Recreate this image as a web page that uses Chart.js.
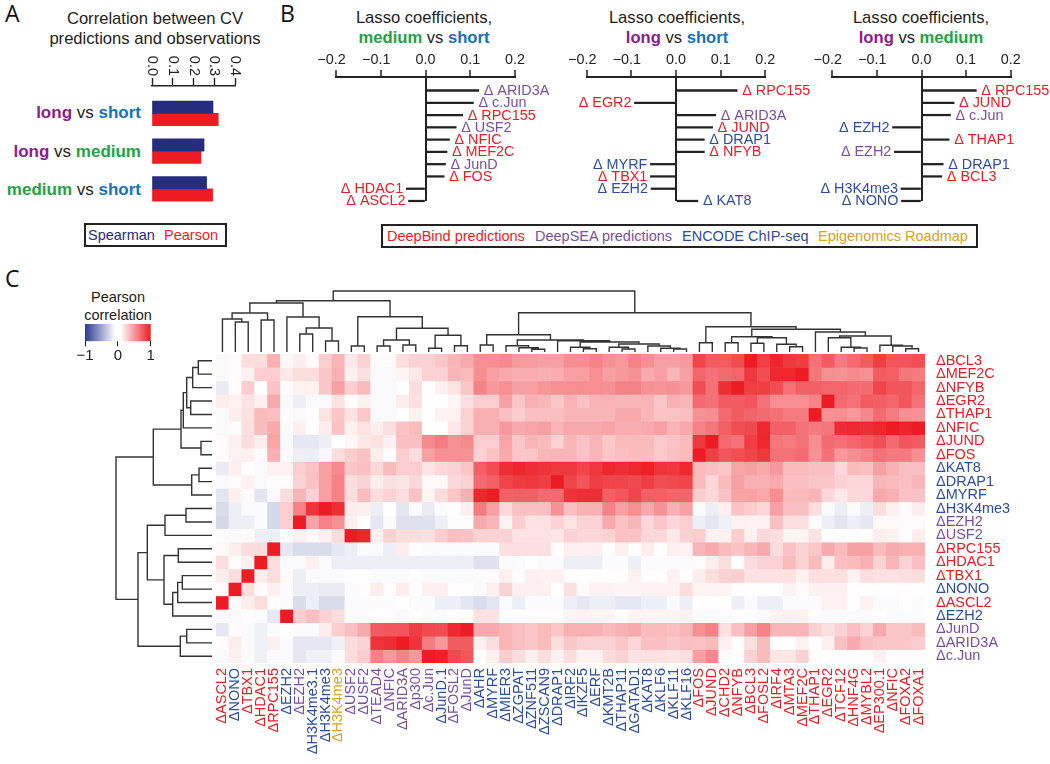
<!DOCTYPE html>
<html>
<head>
<meta charset="utf-8">
<script src="https://cdn.jsdelivr.net/npm/chart.js@4"></script>
<style>
  html, body { margin: 0; background: #fff; }
  body { width: 1050px; height: 764px; position: relative; overflow: hidden; font-family: "Liberation Sans", Arial, sans-serif; color: #222; }
  canvas { position: absolute; left: 0; top: 0; }
  .t { position: absolute; white-space: nowrap; }
  .title { font-size: 16.6px; line-height: 20px; text-align: center; transform: translateX(-50%); }
  .panel { font-family: "Open Sans", sans-serif; font-size: 23px; line-height: 26px; color: #111; }
  .cat { font-size: 17px; line-height: 20px; text-align: right; font-weight: bold; }
  .cat i { font-style: normal; font-weight: normal; color: #222; }
  .box { position: absolute; border: 2px solid #222; box-sizing: border-box; }
  .leg { font-size: 14.5px; line-height: 18px; }
  .long { color: #8e1a8e; } .short { color: #1573b8; } .medium { color: #22a243; }
  b { font-weight: bold; }
</style>
</head>
<body>
<div class="t panel" style="left:5px;top:0px">A</div>
<div class="t panel" style="left:280px;top:0px">B</div>
<div class="t panel" style="left:5px;top:265px">C</div>

<div class="t title" style="left:155px;top:9px">Correlation between CV<br>predictions and observations</div>
<div class="t cat" style="right:909px;top:103px"><span class="long">long</span> <i>vs</i> <span class="short">short</span></div>
<div class="t cat" style="right:909px;top:142px"><span class="long">long</span> <i>vs</i> <span class="medium">medium</span></div>
<div class="t cat" style="right:909px;top:180px"><span class="medium">medium</span> <i>vs</i> <span class="short">short</span></div>
<div class="box" style="left:84px;top:223px;width:143px;height:24px"></div>
<div class="t leg" style="left:88px;top:226px;color:#262c7e">Spearman</div>
<div class="t leg" style="left:164px;top:226px;color:#ed1c24">Pearson</div>

<div class="t title" style="left:424px;top:8px">Lasso coefficients,<br><b class="medium">medium</b> vs <b class="short">short</b></div>
<div class="t title" style="left:677px;top:8px">Lasso coefficients,<br><b class="long">long</b> vs <b class="short">short</b></div>
<div class="t title" style="left:921px;top:8px">Lasso coefficients,<br><b class="long">long</b> vs <b class="medium">medium</b></div>
<div class="box" style="left:381px;top:224px;width:597px;height:24px"></div>
<div class="t leg" style="left:387px;top:227px;color:#ed1c24">DeepBind predictions</div>
<div class="t leg" style="left:535px;top:227px;color:#7a4ea0">DeepSEA predictions</div>
<div class="t leg" style="left:682px;top:227px;color:#2e4c9f">ENCODE ChIP-seq</div>
<div class="t leg" style="left:818px;top:227px;color:#dfa021">Epigenomics Roadmap</div>

<div class="t leg" style="left:118px;top:288px;transform:translateX(-50%);text-align:center;line-height:18px">Pearson<br>correlation</div>

<canvas id="barsA" width="1050" height="764"></canvas>
<canvas id="lassoMS" width="1050" height="764"></canvas>
<canvas id="lassoLS" width="1050" height="764"></canvas>
<canvas id="lassoLM" width="1050" height="764"></canvas>
<canvas id="scaleBar" width="1050" height="764"></canvas>
<canvas id="dendroTop" width="1050" height="764"></canvas>
<canvas id="dendroLeft" width="1050" height="764"></canvas>
<canvas id="heat" width="1050" height="764"></canvas>

<script>
const RED = "#ed1c24", BLUE = "#2e4c9f", PURPLE = "#7a4ea0", ORANGE = "#dfa021", INK = "#222";

// panel A
const aCategories = ["long vs short", "long vs medium", "medium vs short"];
const aSpearman = [0.293, 0.25, 0.262];
const aPearson = [0.318, 0.235, 0.291];
const aTicks = ["0.0", "0.1", "0.2", "0.3", "0.4"];

// panel B
const msNames = ["Δ ARID3A", "Δ c.Jun", "Δ RPC155", "Δ USF2", "Δ NFIC", "Δ MEF2C", "Δ JunD", "Δ FOS", "Δ HDAC1", "Δ ASCL2"];
const msValues = [0.119, 0.107, 0.083, 0.0685, 0.0536, 0.048, 0.0447, 0.0417, -0.043, -0.038];
const msColors = [PURPLE, PURPLE, RED, PURPLE, RED, RED, PURPLE, RED, RED, RED];

const lsNames = ["Δ RPC155", "Δ EGR2", "Δ ARID3A", "Δ JUND", "Δ DRAP1", "Δ NFYB", "Δ MYRF", "Δ TBX1", "Δ EZH2", "Δ KAT8"];
const lsValues = [0.137, -0.093, 0.089, 0.082, 0.0635, 0.0635, -0.0575, -0.0575, -0.056, 0.049];
const lsColors = [RED, RED, PURPLE, RED, BLUE, RED, BLUE, RED, BLUE, BLUE];

const lmNames = ["Δ RPC155", "Δ JUND", "Δ c.Jun", "Δ EZH2", "Δ THAP1", "Δ EZH2", "Δ DRAP1", "Δ BCL3", "Δ H3K4me3", "Δ NONO"];
const lmValues = [0.123, 0.073, 0.065, -0.065, 0.062, -0.061, 0.0486, 0.0456, -0.046, -0.045];
const lmColors = [RED, RED, PURPLE, BLUE, RED, PURPLE, BLUE, RED, BLUE, BLUE];

// panel C
const rowLabels = ["ΔBCL3", "ΔMEF2C", "ΔNFYB", "ΔEGR2", "ΔTHAP1", "ΔNFIC", "ΔJUND", "ΔFOS", "ΔKAT8", "ΔDRAP1", "ΔMYRF", "ΔH3K4me3", "ΔEZH2", "ΔUSF2", "ΔRPC155", "ΔHDAC1", "ΔTBX1", "ΔNONO", "ΔASCL2", "ΔEZH2", "ΔJunD", "ΔARID3A", "Δc.Jun"];
const rowColors = [RED, RED, RED, RED, RED, RED, RED, RED, BLUE, BLUE, BLUE, BLUE, PURPLE, PURPLE, RED, RED, RED, BLUE, RED, BLUE, PURPLE, PURPLE, PURPLE];
const colLabels = ["ΔASCL2", "ΔNONO", "ΔTBX1", "ΔHDAC1", "ΔRPC155", "ΔEZH2", "ΔEZH2", "ΔH3K4me3.1", "ΔH3K4me3", "ΔH3K4me3", "ΔUSF2", "ΔUSF2", "ΔTEAD4", "ΔNFIC", "ΔARID3A", "Δp300", "Δc.Jun", "ΔJunD.1", "ΔFOSL2", "ΔJunD", "ΔAHR", "ΔMYRF", "ΔMIER3", "ΔZGPAT", "ΔZNF511", "ΔZSCAN9", "ΔDRAP1", "ΔIRF2", "ΔIKZF5", "ΔERF", "ΔKMT2B", "ΔTHAP11", "ΔGATAD1", "ΔKAT8", "ΔKLF6", "ΔKLF11", "ΔKLF16", "ΔFOS", "ΔJUND", "ΔCHD2", "ΔNFYB", "ΔBCL3", "ΔFOSL2", "ΔIRF4", "ΔMTA3", "ΔMEF2C", "ΔTHAP1", "ΔEGR2", "ΔTCF12", "ΔHNF4G", "ΔMYBL2", "ΔEP300.1", "ΔNFIC", "ΔFOXA2", "ΔFOXA1"];
const colColors = [RED, BLUE, RED, RED, RED, BLUE, PURPLE, BLUE, BLUE, ORANGE, PURPLE, PURPLE, PURPLE, PURPLE, PURPLE, PURPLE, PURPLE, BLUE, PURPLE, PURPLE,
  BLUE, BLUE, BLUE, BLUE, BLUE, BLUE, BLUE, BLUE, BLUE, BLUE, BLUE, BLUE, BLUE, BLUE, BLUE, BLUE, BLUE,
  RED, RED, RED, RED, RED, RED, RED, RED, RED, RED, RED, RED, RED, RED, RED, RED, RED, RED];

const rowBCL3 = [-.03,.02,.15,.15,.35,.03,.08,.02,.22,.33,.1,.2,.02,.02, .15,.2,.2,.25,.32,.38,.5,.5,.52,.44,.44,.42,.42,.5,.5,.55,.48,.45,.55,.5,.42,.42, .45,.82,.72,.72,.78,1,.85,.95,.88,.85,.62,.72,.58,.65,.72,.85,.75,.75,.78];
const rowMEF2C = [-.03,.02,.07,.22,.22,.1,.15,.15,.25,.35,.07,.14,-.03,-.03, .05,.1,.2,.2,.32,.3,.5,.42,.38,.36,.36,.35,.36,.42,.42,.5,.42,.45,.48,.38,.42,.32, .42,.68,.62,.65,.68,.88,.78,.95,.95,1,.6,.5,.48,.52,.5,.72,.7,.6,.58];
const rowNFYB = [-.1,.02,.22,.01,.27,.02,.06,.06,.25,.42,.22,.3,-.03,-.03, 0,.15,0,.07,.12,.25,.55,.45,.5,.42,.42,.46,.5,.5,.5,.5,.48,.55,.55,.48,.47,.48, .45,.78,.62,.92,1,.85,.85,.78,.62,.7,.7,.68,.68,.65,.65,.82,.75,.75,.68];
const rowEGR2 = [.08,.06,.13,.07,.38,-.03,-.08,-.03,-.03,.13,.01,.06,-.03,-.03, .08,.14,0,0,.04,.14,.22,.22,.42,.25,.35,.32,.25,.34,.27,.34,.34,.32,.32,.34,.25,.35, .32,.65,.62,.72,.72,.75,.62,.5,.5,.5,.55,1,.65,.62,.72,.7,.68,.75,.62];
const rowTHAP1 = [-.03,.08,.13,.3,.28,.02,-.03,.01,.13,.25,.13,.25,-.03,-.03, 0,.06,0,.06,.06,.2,.35,.35,.28,.22,.28,.28,.28,.32,.32,.32,.32,.38,.38,.32,.26,.26, .28,.48,.5,.65,.72,.68,.65,.62,.58,.58,1,.48,.5,.45,.52,.65,.58,.5,.48];
const rowNFIC = [-.03,.02,.14,.3,.38,-.02,.07,.01,.08,.27,.07,.13,.08,.14, .27,.3,0,0,.1,.2,.35,.35,.45,.38,.4,.42,.33,.38,.38,.38,.4,.36,.36,.38,.42,.33, .38,.55,.6,.7,.78,.8,.95,.7,.7,.62,.58,.6,.92,.95,.92,.95,1,.97,1];
const rowJUND = [.02,.07,.15,.08,.4,-.03,-.12,-.12,-.08,.01,.04,.1,.13,.07, .28,.28,.52,.58,.48,.52,.22,.22,.4,.25,.33,.3,.2,.32,.27,.33,.24,.3,.3,.3,.24,.26, .3,.88,1,.65,.62,.85,.95,.6,.58,.62,.5,.65,.62,.68,.72,.78,.65,.75,.72];
const rowFOS = [.02,.06,.07,.02,.35,-.03,-.08,-.08,-.03,.15,.22,.27,.08,.01, .22,.15,.42,.48,.48,.48,.2,.26,.38,.25,.25,.32,.32,.32,.27,.32,.25,.28,.3,.3,.24,.28, .3,1,.85,.75,.78,.82,.88,.62,.62,.65,.48,.62,.45,.5,.55,.62,.58,.58,.5];
const rowKAT8 = [-.1,.07,.01,-.03,.06,.06,.22,.27,.42,.52,.25,.28,.17,.3, .22,.22,.12,.17,.2,.25,.7,.78,.92,.95,.92,.9,.88,.88,.82,.88,.95,.92,.95,.98,.9,.88, .95,.3,.28,.25,.4,.42,.38,.45,.3,.3,.28,.28,.18,.3,.28,.42,.35,.28,.28];
const rowDRAP1 = [-.03,.02,.07,-.03,.02,.02,.2,.27,.42,.55,.15,.2,.08,.14, .12,.18,.03,.03,.17,.2,.65,.7,.82,.87,.88,.85,1,.82,.75,.85,.82,.82,.8,.85,.78,.8, .82,.3,.18,.3,.42,.35,.35,.38,.28,.28,.25,.25,.2,.18,.18,.32,.3,.28,.33];
const rowMYRF = [-.13,.07,.02,-.13,-.03,.15,.33,.2,.42,.55,.15,.3,.15,.2, .15,.27,.05,.15,.25,.35,.95,1,.7,.7,.7,.65,.65,.9,.92,.92,.7,.75,.82,.7,.7,.68, .68,.22,.17,.27,.4,.4,.38,.5,.3,.3,.33,.18,.1,.17,.17,.38,.35,.27,.27];
const rowH3K4me3 = [-.18,-.08,-.02,-.02,-.2,.22,.55,.9,1,.92,.08,.07,-.08,0, -.13,-.02,-.1,-.02,.01,.07,.58,.42,.17,.28,.28,.28,.48,.28,.35,.35,.55,.42,.5,.38,.48,.35, .42,-.02,-.08,.07,.27,.22,.18,.42,.28,.28,.15,-.02,-.08,-.02,-.08,.15,.07,.02,.08];
const rowEZH2p = [-.2,-.08,-.08,-.02,-.2,.22,1,.4,.55,.5,.07,.01,-.12,-.02, -.15,-.15,-.15,-.08,-.01,-.01,.38,.32,.06,.22,.13,.13,.2,.13,.2,.2,.38,.27,.32,.18,.25,.18, .22,-.08,-.13,-.07,.06,.06,.06,.28,.14,.14,-.02,-.08,-.13,-.08,-.12,.03,.03,.02,.02];
const rowUSF2 = [-.02,-.02,.02,-.08,-.08,-.02,.07,.02,.07,.15,1,.95,.07,.2, .15,.15,.14,.22,.28,.27,.2,.2,.2,.13,.13,.13,.12,.2,.18,.18,.2,.27,.27,.18,.18,.1, .2,.22,.06,.06,.22,.06,.17,.15,.05,.05,.13,.01,.01,.01,.01,.08,.06,.01,.08];
const rowRPC155 = [.03,.08,.15,.15,1,-.12,-.18,-.18,-.18,-.12,-.08,-.02,-.02,-.08, .08,.01,-.02,-.02,-.02,-.02,-.02,-.02,.14,.14,.14,.14,.01,.07,.07,.07,.01,.07,.01,.08,.01,.07, .06,.33,.38,.3,.27,.32,.38,.15,.27,.2,.25,.38,.3,.42,.42,.3,.37,.35,.35];
const rowHDAC1 = [.15,.02,.07,1,.15,-.03,-.03,.07,-.02,-.08,-.08,-.08,-.08,-.08, -.08,-.08,-.08,-.08,-.08,-.08,-.15,-.15,-.02,-.02,.01,-.02,-.02,-.08,-.08,-.08,-.02,-.02,-.08,-.02,-.02,-.02, -.02,.02,.08,.15,.01,.15,.2,.2,.3,.2,.3,.08,.28,.3,.35,.2,.33,.2,.28];
const rowTBX1 = [.08,.15,1,.08,.15,.02,-.08,-.02,-.02,-.02,.01,.01,-.02,-.02, -.02,.01,-.02,-.02,-.02,-.02,.02,.02,.07,.01,.07,.06,.07,.01,.01,.01,.01,.01,.07,.01,.01,.07, .01,.08,.15,.2,.22,.13,.13,.13,.13,.06,.14,.14,.14,.06,.15,.13,.13,.14,.15];
const rowNONO = [.02,1,.15,.02,.07,-.02,-.08,-.08,-.1,-.1,-.02,.02,.08,.02, .08,.01,.07,.07,.01,.01,-.02,.07,.2,.07,.07,.07,.01,.14,.02,.06,.06,.05,.05,.06,.06,.06, .15,.05,.05,.05,.01,.01,.01,.01,.06,.02,.06,.06,.06,.01,.01,.01,.01,.01,.01];
const rowASCL2 = [1,.02,.08,.15,.02,-.02,-.18,-.08,-.18,-.18,-.02,-.02,.02,-.02, .01,-.02,-.02,-.08,-.08,-.13,-.18,-.13,-.02,-.08,-.02,-.02,-.02,-.08,-.12,-.08,-.08,-.12,-.12,-.08,-.08,-.02, -.08,.01,.01,.01,-.08,-.02,-.08,-.08,-.02,-.02,-.02,.06,.06,.01,.06,-.02,-.02,.01,-.02];
const rowEZH2b = [-.03,-.03,.01,-.02,-.12,1,.22,.28,.2,.15,-.02,-.02,.01,.01, -.03,.01,-.02,-.02,.01,.01,.13,.13,.01,.01,.01,.01,.01,.05,.05,.05,.05,.01,.05,.05,.05,.05, .06,-.02,-.02,-.02,.01,.01,-.02,.06,.07,.06,.01,-.02,-.02,-.02,-.02,.01,-.02,-.02,-.02];
const rowJunD = [-.12,.02,-.02,-.07,-.02,.01,-.02,-.02,.08,.22,.28,.38,.72,.75, .75,.85,.8,.78,.95,1,.38,.38,.33,.28,.25,.3,.25,.35,.35,.35,.3,.35,.38,.3,.3,.28, .32,.5,.55,.14,.28,.42,.55,.33,.33,.33,.2,.14,.2,.28,.2,.38,.25,.25,.3];
const rowARID3A = [.02,.08,-.02,-.07,.07,-.02,-.12,-.12,-.12,-.07,.15,.2,.9,.92, 1,.9,.58,.45,.72,.72,.07,.15,.33,.28,.25,.3,.15,.25,.2,.2,.2,.25,.18,.28,.28,.25, .28,.27,.3,.07,.01,.14,.3,.01,.01,.06,.01,.07,.28,.38,.28,.25,.25,.25,.22];
const rowCJun = [-.03,.07,-.02,-.07,-.02,-.02,-.12,-.07,-.07,-.02,.15,.22,.55,.45, .55,.45,1,.98,.8,.75,.01,.07,.22,.15,.07,.15,.07,.15,.06,.06,.15,.2,.13,.13,.13,.12, .14,.42,.52,-.02,.01,.2,.3,.12,.12,.2,.01,.01,-.01,.01,.01,.07,.01,.01,.01];
const heatRows = [rowBCL3, rowMEF2C, rowNFYB, rowEGR2, rowTHAP1, rowNFIC, rowJUND, rowFOS, rowKAT8, rowDRAP1, rowMYRF, rowH3K4me3, rowEZH2p, rowUSF2, rowRPC155, rowHDAC1, rowTBX1, rowNONO, rowASCL2, rowEZH2b, rowJunD, rowARID3A, rowCJun];

// dendrograms: leaf = index, node = [left, right, height]
const topA = [[0, [1, 2, 30], 33], [3, 4, 32], 39];
const topB = [5, [[6, 7, 18], [8, 9, 11], 24], 35];
const topC = [[10, 11, 6], [[[12, 13, 6], [14, 15, 7], 12], [[16, 17, 3.7], [18, 19, 6.3], 16.7], 23.7], 35.3];
const topD = [[20, 21, 7], [[22, [23, [24, 25, 2.7], 4.3], 6.3], [26, [[27, [28, 29, 3.3], 4.7], [[30, [31, 32, 3], 4.7], [33, [34, [35, 36, 3], 3.7], 6], 8], 10], 11.3], 12], 17.3];
const topE = [[37, 38, 9.3], [[[39, 40, 9.3], [[41, 42, 8.7], [43, [44, 45, 5.3], 7.7], 14.3], 15.3], [46, [[47, [48, [49, 50, 4], 4.7], 14.3], [51, [52, [53, 54, 3.3], 6], 6.7], 16], 20], 22.7], 25.3];
const topTree = [[[topA, topB, 49], topC, 51.3], [topD, topE, 39.3], 61];

const leftA = [[[[[0, 1, 13.7], 2, 19.3], [3, 4, 21.3], 25.3], 5, 28.7], [6, 7, 11], 31];
const leftB = [[8, 9, 13], 10, 20.3];
const leftC = [[[11, 12, 26], 13, 47], [[14, 15, 33.7], [[[16, 17, 29.7], 18, 34.3], 19, 39.3], 48], 64.7];
const leftD = [[20, 21, 25.3], 22, 31.7];
const leftTree = [[leftA, leftB, 58.7], [leftC, leftD, 74], 96];

// colour bar stops
const barStops = [[0, "#2b3a92"], [0.46, "#ffffff"], [0.54, "#ffffff"], [1, "#ed1c24"]];

Chart.defaults.font.family = '"Liberation Sans", Arial, sans-serif';
Chart.defaults.animation = false;
Chart.defaults.responsive = false;
Chart.defaults.plugins.legend.display = false;
Chart.defaults.plugins.tooltip.enabled = false;

// padding that puts the plot area on the given page rectangle
function area(left, top, right, bottom) {
  return { padding: { left: left, top: top, right: 1050 - right, bottom: 764 - bottom } };
}

function heatColor(v) {
  const a = Math.abs(v);
  const c = v >= 0 ? [237, 28, 36] : [43, 58, 146];
  return "rgb(" + c.map((k) => Math.round(255 + (k - 255) * a)).join(",") + ")";
}

// labels next to the end of each lasso bar, plus the axis numbers
// (negative numbers sit with their digits over the tick, so Chart.js centring won't do)
function lassoLabels(names, colors) {
  return {
    id: "lassoLabels",
    afterDatasetsDraw(chart) {
      const ctx = chart.ctx;
      const { x, y } = chart.scales;
      ctx.save();
      ctx.font = '14.4px "Liberation Sans"';
      ctx.textBaseline = "middle";
      chart.data.datasets[0].data.forEach((d, i) => {
        const px = x.getPixelForValue(d.x);
        ctx.fillStyle = colors[i];
        ctx.textAlign = d.x >= 0 ? "left" : "right";
        ctx.fillText(names[i], px + (d.x >= 0 ? 5 : -3), y.getPixelForValue(d.y) + 0.5);
      });
      ctx.fillStyle = INK;
      ctx.textAlign = "center";
      x.ticks.forEach((t) => {
        const neg = t.value < -1e-6;
        const label = (neg ? "−" : "") + Math.abs(t.value).toFixed(1);
        ctx.fillText(label, x.getPixelForValue(t.value) - (neg ? 4.5 : 0), 60);
      });
      ctx.restore();
    },
  };
}

function lassoChart(id, left, right, names, values, colors) {
  new Chart(document.getElementById(id), {
    type: "bar",
    data: {
      datasets: [{
        data: values.map((v, i) => ({ x: v, y: i })),
        backgroundColor: INK,
        barThickness: 1.6,
        clip: false,
      }],
    },
    options: {
      indexAxis: "y",
      layout: { padding: { left: left, right: 1050 - right, top: 53, bottom: 764 - 201 } },
      scales: {
        x: {
          type: "linear", position: "top", min: -0.2, max: 0.2,
          afterFit: (s) => { s.height = 24; },
          border: { color: INK, width: 2 },
          grid: {
            color: (c) => (Math.abs(c.tick.value) < 1e-6 ? INK : "rgba(0,0,0,0)"),
            lineWidth: 2, tickColor: INK, tickLength: 7, tickWidth: 1.5,
          },
          ticks: { stepSize: 0.1, display: false },
        },
        y: { type: "linear", offset: false, min: -1.1, max: 9, reverse: true, display: false },
      },
    },
    plugins: [lassoLabels(names, colors)],
  });
}

new Chart(document.getElementById("barsA"), {
  type: "bar",
  data: {
    datasets: [
      { label: "Spearman", data: aSpearman.map((v, i) => ({ x: v, y: i })), backgroundColor: "#262c7e" },
      { label: "Pearson", data: aPearson.map((v, i) => ({ x: v, y: i })), backgroundColor: RED },
    ],
  },
  options: {
    indexAxis: "y",
    layout: { padding: { left: 152, right: 1050 - 235.3, top: 86 - 12, bottom: 764 - 207.7 } },
    datasets: { bar: { barThickness: 12.3 } },
    scales: {
      x: {
        type: "linear", position: "top", min: 0, max: 0.4,
        afterFit: (s) => { s.height = 12; },
        border: { color: INK, width: 1.6 },
        grid: { drawOnChartArea: false, tickColor: INK, tickLength: 8, tickWidth: 1.4 },
        ticks: { stepSize: 0.1, display: false },
      },
      y: { type: "linear", offset: false, min: -0.723, max: 2.5, reverse: true, display: false },
    },
  },
  plugins: [{
    id: "rotatedTicks",
    afterDraw(chart) {
      const ctx = chart.ctx;
      const x = chart.scales.x;
      ctx.save();
      ctx.font = '14.5px "Liberation Sans"';
      ctx.fillStyle = INK;
      ctx.textAlign = "right";
      ctx.textBaseline = "middle";
      aTicks.forEach((t) => {
        ctx.save();
        ctx.translate(x.getPixelForValue(parseFloat(t)), 76);
        ctx.rotate(Math.PI / 2);
        ctx.fillText(t, 0, 0);
        ctx.restore();
      });
      ctx.restore();
    },
  }],
});

lassoChart("lassoMS", 336, 515, msNames, msValues, msColors);
lassoChart("lassoLS", 586.7, 765.3, lsNames, lsValues, lsColors);
lassoChart("lassoLM", 832.3, 1010.7, lmNames, lmValues, lmColors);

// colour bar
new Chart(document.getElementById("scaleBar"), {
  type: "bar",
  data: {
    labels: ["Pearson correlation"],
    datasets: [{
      data: [[-1, 1]],
      barPercentage: 1,
      categoryPercentage: 1,
      backgroundColor: (c) => {
        const a = c.chart.chartArea;
        if (!a) return RED;
        const g = c.chart.ctx.createLinearGradient(a.left, 0, a.right, 0);
        barStops.forEach((s) => g.addColorStop(s[0], s[1]));
        return g;
      },
    }],
  },
  options: {
    indexAxis: "y",
    layout: { padding: { left: 85, right: 1050 - 150.7, top: 324, bottom: 764 - 341.3 - 24 } },
    scales: {
      x: {
        type: "linear", position: "bottom", min: -1, max: 1,
        afterFit: (s) => { s.height = 24; },
        border: { display: false },
        grid: { drawOnChartArea: false, tickColor: INK, tickLength: 5, tickWidth: 1 },
        ticks: {
          stepSize: 0.5, padding: 1, color: INK, font: { size: 15 }, maxRotation: 0,
          callback: (v) => (v === -1 ? "−1" : v === 1 ? "1" : v === 0 ? "0" : ""),
        },
      },
      y: { display: false },
    },
  },
});

// flatten a tree into line pieces separated by gaps
function treeSegments(node, pts, flip) {
  if (typeof node === "number") return { pos: node + 0.5, h: 0 };
  const l = treeSegments(node[0], pts, flip);
  const r = treeSegments(node[1], pts, flip);
  const h = node[2];
  [[l.pos, l.h], [l.pos, h], [r.pos, h], [r.pos, r.h]].forEach((p) => {
    pts.push(flip ? { x: p[1], y: p[0] } : { x: p[0], y: p[1] });
  });
  pts.push({ x: null, y: null });
  return { pos: (l.pos + r.pos) / 2, h: h };
}

function dendroChart(id, tree, flip, pad, scales) {
  const pts = [];
  treeSegments(tree, pts, flip);
  new Chart(document.getElementById(id), {
    type: "scatter",
    data: {
      datasets: [{
        data: pts, showLine: true, spanGaps: false, pointRadius: 0,
        borderColor: "#333", borderWidth: 1.4, clip: false,
      }],
    },
    options: { layout: pad, scales: scales },
  });
}

dendroChart("dendroTop", topTree, false, area(216, 285, 925, 352), {
  x: { type: "linear", min: 0, max: 55, display: false },
  y: { type: "linear", min: 0, max: 67, display: false },
});
dendroChart("dendroLeft", leftTree, true, area(112, 354, 212, 663), {
  x: { type: "linear", min: 0, max: 100, reverse: true, display: false },
  y: { type: "linear", min: 0, max: 23, reverse: true, display: false },
});

// heatmap: one floating bar per cell
new Chart(document.getElementById("heat"), {
  type: "bar",
  data: {
    labels: colLabels,
    datasets: heatRows.map((row, r) => ({
      label: rowLabels[r],
      data: row.map(() => [r, r + 1]),
      backgroundColor: row.map(heatColor),
      barPercentage: 1,
      categoryPercentage: 1,
      grouped: false,
      yAxisID: "y",
    })),
  },
  options: {
    layout: { padding: { left: 216, top: 354, right: 0, bottom: 0 } },
    scales: {
      x: {
        type: "category",
        afterFit: (s) => { s.height = 101; },
        grid: { display: false, drawTicks: false },
        border: { display: false },
        ticks: {
          autoSkip: false, minRotation: 90, maxRotation: 90, padding: 5,
          font: { size: 14.5 }, color: (c) => colColors[c.index],
        },
      },
      y: { type: "linear", min: 0, max: 23, reverse: true, display: false },
      rows: {
        type: "category", labels: rowLabels, position: "right", offset: true,
        afterFit: (s) => { s.width = 125; },
        grid: { display: false, drawTicks: false },
        border: { display: false },
        ticks: {
          autoSkip: false, padding: 11, font: { size: 14.5 },
          color: (c) => rowColors[c.index],
        },
      },
    },
  },
});
</script>
</body>
</html>
